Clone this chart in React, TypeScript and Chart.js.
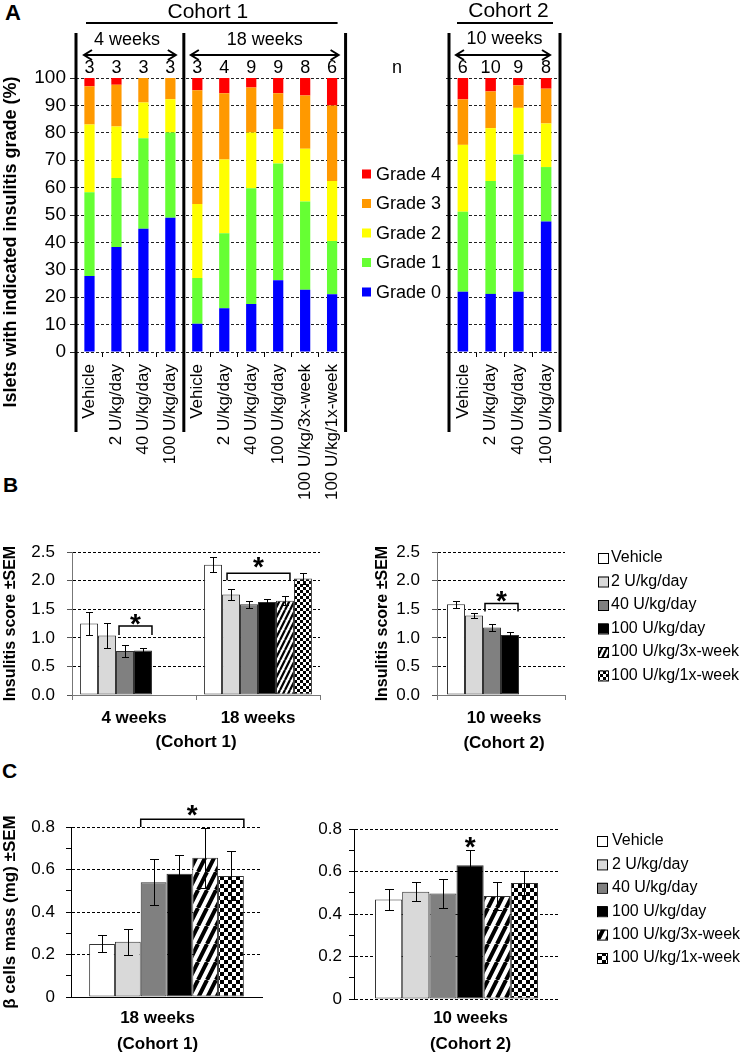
import React, { useEffect, useRef } from 'react';
import { Chart, registerables } from 'chart.js';

Chart.register(...registerables);

const FONT = "'Liberation Sans', Arial, sans-serif";

// ---------------- Panel A: insulitis grade distribution (%) ----------------
const aCohort1Labels = ['Vehicle', '2 U/kg/day', '40 U/kg/day', '100 U/kg/day', 'Vehicle', '2 U/kg/day', '40 U/kg/day', '100 U/kg/day', '100 U/kg/3x-week', '100 U/kg/1x-week'];
const aCohort2Labels = ['Vehicle', '2 U/kg/day', '40 U/kg/day', '100 U/kg/day'];
const aGradeNames = ['Grade 0', 'Grade 1', 'Grade 2', 'Grade 3', 'Grade 4'];
const aGradeColors = ['#0000ff', '#66ff33', '#ffff00', '#ff9900', '#ff0000'];
const aC1Grade0 = [27.7, 38.3, 45.0, 49.0, 10.3, 16.0, 17.5, 26.2, 22.7, 21.1];
const aC1Grade1 = [30.6, 25.2, 33.0, 31.1, 16.7, 27.3, 42.3, 42.6, 32.2, 19.4];
const aC1Grade2 = [24.7, 18.8, 13.1, 12.1, 27.0, 27.0, 20.3, 12.6, 19.3, 21.9];
const aC1Grade3 = [14.0, 15.2, 8.9, 7.8, 41.5, 24.1, 16.4, 13.0, 19.4, 27.6];
const aC1Grade4 = [3.0, 2.5, 0.0, 0.0, 4.5, 5.6, 3.5, 5.6, 6.4, 10.0];
const aC2Grade0 = [22.0, 21.2, 22.0, 47.6];
const aC2Grade1 = [29.2, 41.2, 50.1, 19.9];
const aC2Grade2 = [24.4, 19.3, 17.0, 15.9];
const aC2Grade3 = [16.6, 13.4, 8.2, 12.7];
const aC2Grade4 = [7.8, 4.9, 2.7, 3.9];
const aC1N = [3, 3, 3, 3, 3, 4, 9, 9, 8, 6];
const aC2N = [6, 10, 9, 8];
const aYMax = 100;
const aYStep = 10;

// ---------------- Panels B and C: treatments ----------------
const treatmentLabels = ['Vehicle', '2 U/kg/day', '40 U/kg/day', '100 U/kg/day', '100 U/kg/3x-week', '100 U/kg/1x-week'];
const treatmentColors = ['#ffffff', '#d9d9d9', '#808080', '#000000'];

// Panel B: insulitis score (mean, SEM) per treatment
const bCohort1Groups = ['4 weeks', '18 weeks'];
const b4wMeans = [1.25, 1.04, 0.77, 0.78, null, null];
const b4wSem = [0.2, 0.22, 0.1, 0.05, null, null];
const b18wMeans = [2.28, 1.76, 1.59, 1.63, 1.65, 2.04];
const b18wSem = [0.13, 0.1, 0.06, 0.05, 0.08, 0.1];
const bCohort2Group = ['10 weeks', '(Cohort 2)'];
const b10wMeans = [1.59, 1.39, 1.18, 1.05, null, null];
const b10wSem = [0.06, 0.04, 0.06, 0.05, null, null];
const bYMax = 2.5;
const bYStep = 0.5;

// Panel C: beta cell mass (mg) (mean, SEM)
const cCohort1Group = ['18 weeks', '(Cohort 1)'];
const c18wMeans = [0.25, 0.26, 0.54, 0.58, 0.655, 0.57];
const c18wSem = [0.04, 0.06, 0.108, 0.087, 0.14, 0.115];
const cCohort2Group = ['10 weeks', '(Cohort 2)'];
const c10wMeans = [0.468, 0.505, 0.496, 0.629, 0.485, 0.546];
const c10wSem = [0.048, 0.045, 0.07, 0.074, 0.065, 0.058];
const cYMax = 0.8;
const cYStep = 0.1;

// significance annotations (data units)
const bSig4w = { from: 2, to: 3, level: 1.21, star: 1.37 };
const bSig18w = { from: 1, to: 4, level: 2.13, star: 2.36 };
const bSig10w = { from: 2, to: 3, level: 1.6, star: 1.77 };
const cSig18w = { from: 2, to: 5, level: 0.836, star: 0.89 };
const cSig10w = { at: 3, star: 0.75 };

type Ctx = CanvasRenderingContext2D;

function drawText(ctx: Ctx, s: string, x: number, y: number, font: string, align: CanvasTextAlign = 'center') {
  ctx.save();
  ctx.font = font;
  ctx.fillStyle = '#000';
  ctx.textAlign = align;
  ctx.textBaseline = 'middle';
  ctx.fillText(s, x, y);
  ctx.restore();
}

function drawVText(ctx: Ctx, s: string, x: number, y: number, font: string) {
  ctx.save();
  ctx.translate(x, y);
  ctx.rotate(-Math.PI / 2);
  ctx.font = font;
  ctx.fillStyle = '#000';
  ctx.textAlign = 'center';
  ctx.textBaseline = 'middle';
  ctx.fillText(s, 0, 0);
  ctx.restore();
}

function line(ctx: Ctx, x1: number, y1: number, x2: number, y2: number, w: number) {
  ctx.save();
  ctx.strokeStyle = '#000';
  ctx.lineWidth = w;
  ctx.beginPath();
  ctx.moveTo(x1, y1);
  ctx.lineTo(x2, y2);
  ctx.stroke();
  ctx.restore();
}

function drawDoubleArrow(ctx: Ctx, x1: number, x2: number, y: number) {
  ctx.save();
  ctx.strokeStyle = '#000';
  ctx.lineWidth = 2;
  ctx.beginPath();
  ctx.moveTo(x1, y);
  ctx.lineTo(x2, y);
  ctx.moveTo(x1 + 8, y - 5);
  ctx.lineTo(x1, y);
  ctx.lineTo(x1 + 8, y + 5);
  ctx.moveTo(x2 - 8, y - 5);
  ctx.lineTo(x2, y);
  ctx.lineTo(x2 - 8, y + 5);
  ctx.stroke();
  ctx.restore();
}

function drawBracket(ctx: Ctx, x1: number, x2: number, y: number, drop: number) {
  ctx.save();
  ctx.strokeStyle = '#000';
  ctx.lineWidth = 1.5;
  ctx.beginPath();
  ctx.moveTo(x1, y + drop);
  ctx.lineTo(x1, y);
  ctx.lineTo(x2, y);
  ctx.lineTo(x2, y + drop);
  ctx.stroke();
  ctx.restore();
}

function drawStar(ctx: Ctx, x: number, y: number) {
  ctx.save();
  ctx.font = `bold 28px ${FONT}`;
  ctx.fillStyle = '#000';
  ctx.textAlign = 'center';
  ctx.textBaseline = 'alphabetic';
  ctx.fillText('*', x, y + 28 * 0.58);
  ctx.restore();
}

function stripePattern(P: number) {
  const c = document.createElement('canvas');
  c.width = P;
  c.height = 2 * P;
  const g = c.getContext('2d')!;
  g.fillStyle = '#fff';
  g.fillRect(0, 0, P, 2 * P);
  g.strokeStyle = '#000';
  g.lineWidth = 0.447 * P;
  g.beginPath();
  for (const k of [-1, 0, 1]) {
    g.moveTo(k * P, 2 * P);
    g.lineTo(k * P + P, 0);
  }
  g.stroke();
  return g.createPattern(c, 'repeat')!;
}

function checkerPattern(s: number) {
  const c = document.createElement('canvas');
  c.width = 2 * s;
  c.height = 2 * s;
  const g = c.getContext('2d')!;
  g.fillStyle = '#fff';
  g.fillRect(0, 0, 2 * s, 2 * s);
  g.fillStyle = '#000';
  g.fillRect(0, 0, s, s);
  g.fillRect(s, s, s, s);
  return g.createPattern(c, 'repeat')!;
}

function barEdges(chart: any, d: number, i: number) {
  const b: any = chart.getDatasetMeta(d).data[i];
  const p = b.getProps(['x', 'width'], true);
  return { l: p.x - p.width / 2, r: p.x + p.width / 2, x: p.x };
}

function errorBars(cap: number) {
  return {
    id: 'errorBars',
    afterDatasetsDraw(chart: any) {
      const ctx: Ctx = chart.ctx;
      const y = chart.scales.y;
      chart.data.datasets.forEach((ds: any, di: number) => {
        if (!ds.errors) return;
        chart.getDatasetMeta(di).data.forEach((bar: any, i: number) => {
          const v = ds.data[i];
          const e = ds.errors[i];
          if (v == null || e == null) return;
          const x = Math.round(bar.x) + 0.5;
          const yt = Math.round(y.getPixelForValue(v + e)) + 0.5;
          const yb = Math.round(y.getPixelForValue(v - e)) + 0.5;
          ctx.save();
          ctx.strokeStyle = '#000';
          ctx.lineWidth = 1;
          ctx.beginPath();
          ctx.moveTo(x, yt);
          ctx.lineTo(x, yb);
          ctx.moveTo(x - cap, yt);
          ctx.lineTo(x + cap, yt);
          ctx.moveTo(x - cap, yb);
          ctx.lineTo(x + cap, yb);
          ctx.stroke();
          ctx.restore();
        });
      });
    },
  };
}

function drawTreatmentLegend(chart: any, x0: number, y0: number, dy: number, gap: number) {
  const ctx: Ctx = chart.ctx;
  chart.data.datasets.forEach((ds: any, i: number) => {
    const yc = y0 + i * dy;
    ctx.save();
    ctx.fillStyle = ds.backgroundColor;
    ctx.fillRect(x0, yc - 5, 10, 10);
    ctx.strokeStyle = '#000';
    ctx.lineWidth = 1;
    ctx.strokeRect(x0 + 0.5, yc - 4.5, 10, 10);
    ctx.restore();
    drawText(ctx, ds.label, x0 + gap, yc, `16px ${FONT}`, 'left');
  });
}

function gradeDatasets(series: number[][]) {
  return aGradeNames.map((label, k) => ({
    label,
    data: series[k],
    backgroundColor: aGradeColors[k],
    borderWidth: 0,
    barPercentage: 0.38,
    categoryPercentage: 1,
  }));
}

const A_CANVAS_H = 520;
const A_BOTTOM = 352;

function gradeScales(yWidth: number, showYTicks: boolean) {
  return {
    x: {
      stacked: true,
      grid: { drawOnChartArea: false, drawTicks: true, tickLength: 5, color: '#000', offset: true },
      border: { display: false },
      ticks: { font: { family: FONT, size: 17 }, color: '#000', minRotation: 90, maxRotation: 90, padding: 7, autoSkip: false },
      afterFit: (s: any) => { s.height = A_CANVAS_H - A_BOTTOM; },
    },
    y: {
      stacked: true,
      min: 0,
      max: aYMax,
      ticks: { stepSize: aYStep, display: showYTicks, font: { family: FONT, size: 19 }, color: '#000', padding: 4 },
      grid: { color: '#222', tickColor: '#222', tickLength: showYTicks ? 6 : 3 },
      border: { display: false, dash: [3, 2] },
      afterFit: (s: any) => { s.width = yWidth; },
    },
  };
}

function treatmentDatasets(groupMeans: (number | null)[][], groupSem: (number | null)[][], fills: any[], catPct: number) {
  return treatmentLabels.map((label, t) => ({
    label,
    data: groupMeans.map((g) => g[t]),
    errors: groupSem.map((g) => g[t]),
    backgroundColor: fills[t],
    borderColor: '#333',
    borderWidth: 1,
    borderSkipped: false,
    barPercentage: 1,
    categoryPercentage: catPct,
  }));
}

const baseOptions = {
  responsive: false,
  animation: false,
  events: [],
  plugins: { legend: { display: false }, tooltip: { enabled: false } },
};

export default function App() {
  const a1 = useRef<HTMLCanvasElement>(null);
  const a2 = useRef<HTMLCanvasElement>(null);
  const b1 = useRef<HTMLCanvasElement>(null);
  const b2 = useRef<HTMLCanvasElement>(null);
  const c1 = useRef<HTMLCanvasElement>(null);
  const c2 = useRef<HTMLCanvasElement>(null);

  useEffect(() => {
    const prevMargin = document.body.style.margin;
    document.body.style.margin = '0';
    Chart.defaults.font.family = FONT;
    Chart.defaults.color = '#000';

    const fillsB = [...treatmentColors, stripePattern(5), checkerPattern(3)];
    const fillsC = [...treatmentColors, stripePattern(9), checkerPattern(4)];

    // ---------- A1 ----------
    const a1Decor = {
      id: 'a1Decor',
      afterDraw(chart: any) {
        const ctx: Ctx = chart.ctx;
        const ca = chart.chartArea;
        const x = chart.scales.x;
        const sep = (x.getPixelForValue(3) + x.getPixelForValue(4)) / 2;
        line(ctx, ca.left, 33, ca.left, 432, 3);
        line(ctx, sep, 33, sep, 432, 3);
        line(ctx, ca.right, 33, ca.right, 432, 3);
        drawText(ctx, 'Cohort 1', (ca.left + ca.right) / 2 - 3, 12, `21px ${FONT}`);
        line(ctx, ca.left + 10, 23, ca.right - 8, 23, 2);
        drawText(ctx, '4 weeks', (ca.left + sep) / 2 - 3, 40, `18px ${FONT}`);
        drawText(ctx, '18 weeks', (sep + ca.right) / 2, 40, `18px ${FONT}`);
        drawDoubleArrow(ctx, ca.left + 8, sep - 8, 55);
        drawDoubleArrow(ctx, sep + 7, ca.right - 7, 55);
        aC1N.forEach((n, i) => drawText(ctx, String(n), x.getPixelForValue(i), 68, `18px ${FONT}`));
        drawVText(ctx, 'Islets with indicated insulitis grade (%)', 11, 242, `bold 18px ${FONT}`);
      },
    };
    const chA1 = new Chart(a1.current!, {
      type: 'bar',
      data: { labels: aCohort1Labels, datasets: gradeDatasets([aC1Grade0, aC1Grade1, aC1Grade2, aC1Grade3, aC1Grade4]) },
      options: {
        ...baseOptions,
        layout: { padding: { top: 78, right: 10, left: 0, bottom: 0 } },
        scales: gradeScales(76, true),
      } as any,
      plugins: [a1Decor],
    });

    // ---------- A2 ----------
    const a2Decor = {
      id: 'a2Decor',
      afterDraw(chart: any) {
        const ctx: Ctx = chart.ctx;
        const ca = chart.chartArea;
        const x = chart.scales.x;
        line(ctx, ca.left, 33, ca.left, 432, 3);
        line(ctx, ca.right, 33, ca.right, 432, 3);
        drawText(ctx, 'Cohort 2', (ca.left + ca.right) / 2 + 4, 11, `21px ${FONT}`);
        line(ctx, ca.left + 8, 23, ca.right - 7, 23, 2);
        drawText(ctx, '10 weeks', (ca.left + ca.right) / 2, 39, `18px ${FONT}`);
        drawDoubleArrow(ctx, ca.left + 7, ca.right - 10, 55);
        aC2N.forEach((n, i) => drawText(ctx, String(n), x.getPixelForValue(i), 68, `18px ${FONT}`));
        drawText(ctx, 'n', 41, 68, `18px ${FONT}`);
        const ds = chart.data.datasets.slice().reverse();
        ds.forEach((d: any, i: number) => {
          const yc = 174 + i * 29.5;
          ctx.save();
          ctx.fillStyle = d.backgroundColor;
          ctx.fillRect(6, yc - 4.5, 9, 9);
          ctx.restore();
          drawText(ctx, d.label, 20, yc + 1, `18px ${FONT}`, 'left');
        });
      },
    };
    const chA2 = new Chart(a2.current!, {
      type: 'bar',
      data: { labels: aCohort2Labels, datasets: gradeDatasets([aC2Grade0, aC2Grade1, aC2Grade2, aC2Grade3, aC2Grade4]) },
      options: {
        ...baseOptions,
        layout: { padding: { top: 78, right: 16, left: 0, bottom: 0 } },
        scales: gradeScales(93, false),
      } as any,
      plugins: [a2Decor],
    });

    // ---------- B1 ----------
    const b1Decor = {
      id: 'b1Decor',
      afterDraw(chart: any) {
        const ctx: Ctx = chart.ctx;
        const y = chart.scales.y;
        const s1 = barEdges(chart, bSig4w.from, 0);
        const e1 = barEdges(chart, bSig4w.to, 0);
        drawBracket(ctx, s1.l + 3, e1.r, y.getPixelForValue(bSig4w.level), 9);
        drawStar(ctx, (s1.l + 3 + e1.r) / 2, y.getPixelForValue(bSig4w.star));
        const s2 = barEdges(chart, bSig18w.from, 1);
        const e2 = barEdges(chart, bSig18w.to, 1);
        drawBracket(ctx, s2.l + 5, e2.r - 4, y.getPixelForValue(bSig18w.level), 7);
        drawStar(ctx, (s2.l + 5 + e2.r - 4) / 2, y.getPixelForValue(bSig18w.star));
      },
    };
    const bYScale = (titlePad: number, showTitle: boolean) => ({
      min: 0,
      max: bYMax,
      ticks: { stepSize: bYStep, callback: (v: any) => Number(v).toFixed(1), font: { family: FONT, size: 17 }, color: '#000', padding: 12 },
      grid: { color: (c: any) => (c.tick && c.tick.value === 0 ? 'rgba(0,0,0,0)' : '#000'), tickColor: '#555', tickLength: 5 },
      border: { color: '#777', dash: [3, 2] },
      title: { display: showTitle, text: 'Insulitis score ±SEM', font: { family: FONT, size: 16, weight: 'bold' }, color: '#000', padding: { top: titlePad, bottom: 0 } },
    });
    const chB1 = new Chart(b1.current!, {
      type: 'bar',
      data: { labels: bCohort1Groups, datasets: treatmentDatasets([b4wMeans, b18wMeans], [b4wSem, b18wSem], fillsB, 0.87) },
      options: {
        ...baseOptions,
        layout: { padding: { top: 18, right: 20, left: 0, bottom: 0 } },
        scales: {
          x: {
            grid: { drawOnChartArea: false, tickLength: 5, color: '#777', offset: true },
            border: { color: '#777' },
            ticks: { font: { family: FONT, size: 17, weight: 'bold' }, color: '#000', padding: 8 },
            title: { display: true, text: '(Cohort 1)', font: { family: FONT, size: 17, weight: 'bold' }, color: '#000', padding: { top: 0, bottom: 7 } },
            afterFit: (s: any) => { s.height = 65; },
          },
          y: { ...bYScale(1, true), afterFit: (s: any) => { s.width = 72; } },
        },
      } as any,
      plugins: [errorBars(3.5), b1Decor],
    });

    // ---------- B2 ----------
    const b2Decor = {
      id: 'b2Decor',
      afterDraw(chart: any) {
        const ctx: Ctx = chart.ctx;
        const y = chart.scales.y;
        const s = barEdges(chart, bSig10w.from, 0);
        const e = barEdges(chart, bSig10w.to, 0);
        drawBracket(ctx, s.l + 2, e.r - 1, y.getPixelForValue(bSig10w.level), 8);
        drawStar(ctx, (s.l + 2 + e.r - 1) / 2, y.getPixelForValue(bSig10w.star));
        drawTreatmentLegend(chart, 232, 28, 23.5, 13);
      },
    };
    const chB2 = new Chart(b2.current!, {
      type: 'bar',
      data: { labels: [bCohort2Group], datasets: treatmentDatasets([b10wMeans], [b10wSem], fillsB, 0.844) },
      options: {
        ...baseOptions,
        layout: { padding: { top: 18, right: 181, left: 0, bottom: 0 } },
        scales: {
          x: {
            grid: { drawOnChartArea: false, tickLength: 5, color: '#777', offset: true },
            border: { color: '#777' },
            ticks: { font: { family: FONT, size: 17, weight: 'bold', lineHeight: 1.47 }, color: '#000', padding: 6, labelOffset: 3 },
            afterFit: (s: any) => { s.height = 65; },
          },
          y: { ...bYScale(7, true), afterFit: (s: any) => { s.width = 71; } },
        },
      } as any,
      plugins: [errorBars(3.5), b2Decor],
    });

    // ---------- C ----------
    const cYScale = (padding: number, showTitle: boolean, zeroDashed: boolean) => ({
      min: 0,
      max: cYMax,
      ticks: {
        stepSize: cYStep,
        autoSkip: false,
        callback: (v: any, i: number) => (i % 2 ? '' : Number(v) === 0 ? '0' : Number(v).toFixed(1)),
        font: { family: FONT, size: 17 },
        color: '#000',
        padding,
      },
      grid: {
        color: (c: any) => (c.index % 2 === 0 && (c.index > 0 || zeroDashed) ? '#000' : 'rgba(0,0,0,0)'),
        tickColor: '#000',
        tickLength: 5,
      },
      border: { color: '#000', dash: [3, 2] },
      title: { display: showTitle, text: 'β cells mass (mg) ±SEM', font: { family: FONT, size: 17, weight: 'bold' }, color: '#000', padding: { top: 0, bottom: 0 } },
    });

    const c1Decor = {
      id: 'c1Decor',
      afterDraw(chart: any) {
        const ctx: Ctx = chart.ctx;
        const y = chart.scales.y;
        const s = barEdges(chart, cSig18w.from, 0);
        const e = barEdges(chart, cSig18w.to, 0);
        const yl = y.getPixelForValue(cSig18w.level);
        drawBracket(ctx, s.l, e.r, yl, y.getPixelForValue(cYMax) - yl);
        drawStar(ctx, (s.l + e.r) / 2, y.getPixelForValue(cSig18w.star));
      },
    };
    const chC1 = new Chart(c1.current!, {
      type: 'bar',
      data: { labels: [cCohort1Group], datasets: treatmentDatasets([c18wMeans], [c18wSem], fillsC, 0.81) },
      options: {
        ...baseOptions,
        layout: { padding: { top: 27, right: 38, left: 0, bottom: 0 } },
        scales: {
          x: {
            grid: { display: false, drawTicks: false },
            border: { color: '#000' },
            ticks: { font: { family: FONT, size: 17, weight: 'bold', lineHeight: 1.5 }, color: '#000', padding: 9, labelOffset: -9 },
            afterFit: (s: any) => { s.height = 59; },
          },
          y: { ...cYScale(11, true, false), afterFit: (s: any) => { s.width = 71; } },
        },
      } as any,
      plugins: [errorBars(4.5), c1Decor],
    });

    const c2Decor = {
      id: 'c2Decor',
      afterDraw(chart: any) {
        const ctx: Ctx = chart.ctx;
        const y = chart.scales.y;
        const b = barEdges(chart, cSig10w.at, 0);
        drawStar(ctx, b.x, y.getPixelForValue(cSig10w.star));
        drawTreatmentLegend(chart, 307, 41, 23.4, 15);
      },
    };
    const chC2 = new Chart(c2.current!, {
      type: 'bar',
      data: { labels: [cCohort2Group], datasets: treatmentDatasets([c10wMeans], [c10wSem], fillsC, 0.795) },
      options: {
        ...baseOptions,
        layout: { padding: { top: 29, right: 187, left: 0, bottom: 0 } },
        scales: {
          x: {
            grid: { display: false, drawTicks: false },
            border: { display: false },
            ticks: { font: { family: FONT, size: 17, weight: 'bold', lineHeight: 1.5 }, color: '#000', padding: 7, labelOffset: 14 },
            afterFit: (s: any) => { s.height = 57; },
          },
          y: { ...cYScale(7, false, true), afterFit: (s: any) => { s.width = 64; } },
        },
      } as any,
      plugins: [errorBars(4.5), c2Decor],
    });

    const charts = [chA1, chA2, chB1, chB2, chC1, chC2];
    return () => {
      charts.forEach((c) => c.destroy());
      document.body.style.margin = prevMargin;
    };
  }, []);

  const abs = (left: number, top: number): React.CSSProperties => ({ position: 'absolute', left, top, display: 'block' });
  const letter = (left: number, top: number, size: number): React.CSSProperties => ({
    position: 'absolute', left, top, fontFamily: FONT, fontWeight: 'bold', fontSize: size, lineHeight: 1, color: '#000',
  });

  return (
    <div style={{ position: 'relative', width: 746, height: 1056, background: '#fff', overflow: 'hidden' }}>
      <div style={letter(5, 2, 22)}>A</div>
      <div style={letter(3, 474, 21)}>B</div>
      <div style={letter(2, 760, 21)}>C</div>
      <canvas ref={a1} width={360} height={A_CANVAS_H} style={abs(0, 0)} />
      <canvas ref={a2} width={220} height={A_CANVAS_H} style={abs(356, 0)} />
      <canvas ref={b1} width={340} height={230} style={abs(0, 530)} />
      <canvas ref={b2} width={380} height={230} style={abs(366, 530)} />
      <canvas ref={c1} width={300} height={256} style={abs(0, 800)} />
      <canvas ref={c2} width={456} height={256} style={abs(290, 800)} />
    </div>
  );
}
